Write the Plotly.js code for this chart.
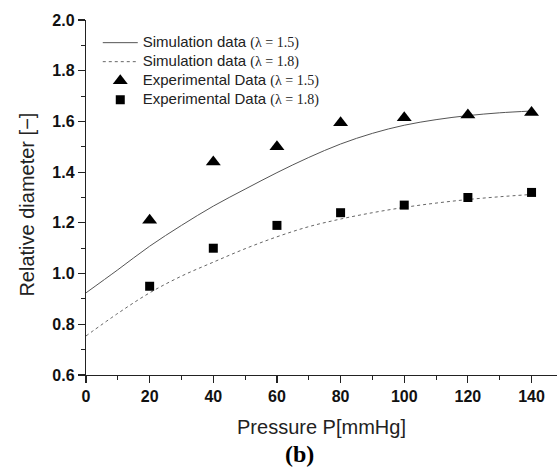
<!DOCTYPE html>
<html><head><meta charset="utf-8">
<script src="https://cdn.plot.ly/plotly-3.0.1.min.js"></script>
<style>html,body{margin:0;padding:0;background:#fff}#chart{width:558px;height:468px}</style>
</head><body><div id="chart"></div>
<script>
// Simulation curves (every 10 mmHg)
const simPressure = [0,10,20,30,40,50,60,70,80,90,100,110,120,130,140];
const sim15 = [0.924,1.015,1.108,1.190,1.266,1.333,1.398,1.458,1.511,1.553,1.585,1.607,1.623,1.634,1.641];
const sim18 = [0.754,0.843,0.924,0.990,1.045,1.098,1.145,1.185,1.215,1.240,1.261,1.278,1.292,1.303,1.312];
// Experimental points
const expPressure = [20,40,60,80,100,120,140];
const exp15 = [1.21,1.44,1.50,1.595,1.615,1.625,1.635];
const exp18 = [0.95,1.10,1.19,1.24,1.27,1.30,1.32];
// Labels
const names = [
  '<span style="font-size:15px">Simulation data </span><span style="font-family:Liberation Serif;font-size:14px">(λ = 1.5)</span>',
  '<span style="font-size:15px">Simulation data </span><span style="font-family:Liberation Serif;font-size:14px">(λ = 1.8)</span>',
  '<span style="font-size:15px">Experimental Data </span><span style="font-family:Liberation Serif;font-size:14px">(λ = 1.5)</span>',
  '<span style="font-size:15px">Experimental Data </span><span style="font-family:Liberation Serif;font-size:14px">(λ = 1.8)</span>'
];
const xTitle = 'Pressure P[mmHg]';
const yTitle = 'Relative diameter [−]';
const panelLabel = '(b)';

const traces = [
  {x: simPressure, y: sim15, mode: 'lines', name: names[0], line: {color: '#555', width: 1, shape: 'spline'}},
  {x: simPressure, y: sim18, mode: 'lines', name: names[1], line: {color: '#666', width: 1, dash: 'dot', shape: 'spline'}},
  {x: expPressure, y: exp15, mode: 'markers', name: names[2], marker: {symbol: 'triangle-up', size: 13, color: '#000'}},
  {x: expPressure, y: exp18, mode: 'markers', name: names[3], marker: {symbol: 'square', size: 9, color: '#000'}}
];

const tickFont = {family: 'Liberation Sans', size: 16, color: '#111', weight: 'bold'};
const layout = {
  width: 558, height: 468,
  margin: {l: 86, r: 1, t: 20, b: 93},
  paper_bgcolor: '#fff', plot_bgcolor: '#fff',
  showlegend: true,
  legend: {x: 0.025, y: 0.977, xanchor: 'left', yanchor: 'top', bgcolor: 'rgba(0,0,0,0)',
           font: {family: 'Liberation Sans', size: 12, color: '#222'}, tracegroupgap: 0, itemwidth: 35},
  xaxis: {
    range: [0, 148], tickvals: [0,20,40,60,80,100,120,140], showgrid: false, zeroline: false,
    showline: true, linecolor: '#222', linewidth: 1.2,
    ticks: 'outside', ticklen: 7, tickwidth: 1.2, tickcolor: '#222',
    minor: {dtick: 10, tick0: 0, ticks: 'outside', ticklen: 4, tickwidth: 1, tickcolor: '#222'},
    tickfont: tickFont,
    title: {text: xTitle, font: {family: 'Liberation Sans', size: 20, color: '#222'}, standoff: 15}
  },
  yaxis: {
    range: [0.6, 2.0], dtick: 0.2, tickformat: '.1f', showgrid: false, zeroline: false,
    showline: true, linecolor: '#222', linewidth: 1.2,
    ticks: 'outside', ticklen: 7, tickwidth: 1.2, tickcolor: '#222',
    minor: {dtick: 0.1, ticks: 'outside', ticklen: 4, tickwidth: 1, tickcolor: '#222'},
    tickfont: tickFont
  },
  annotations: [{
    text: panelLabel, xref: 'paper', yref: 'paper', x: 0.453, y: 0, yshift: -64,
    xanchor: 'center', yanchor: 'top', showarrow: false,
    font: {family: 'Liberation Serif', size: 24, color: '#000', weight: 'bold'}
  }, {
    text: yTitle, xref: 'paper', yref: 'paper', x: 0, xshift: -59, y: 0.48,
    xanchor: 'center', yanchor: 'middle', textangle: -90, showarrow: false,
    font: {family: 'Liberation Sans', size: 20, color: '#222'}
  }]
};

Plotly.newPlot('chart', traces, layout, {displayModeBar: false, staticPlot: true});
</script>
</body></html>
